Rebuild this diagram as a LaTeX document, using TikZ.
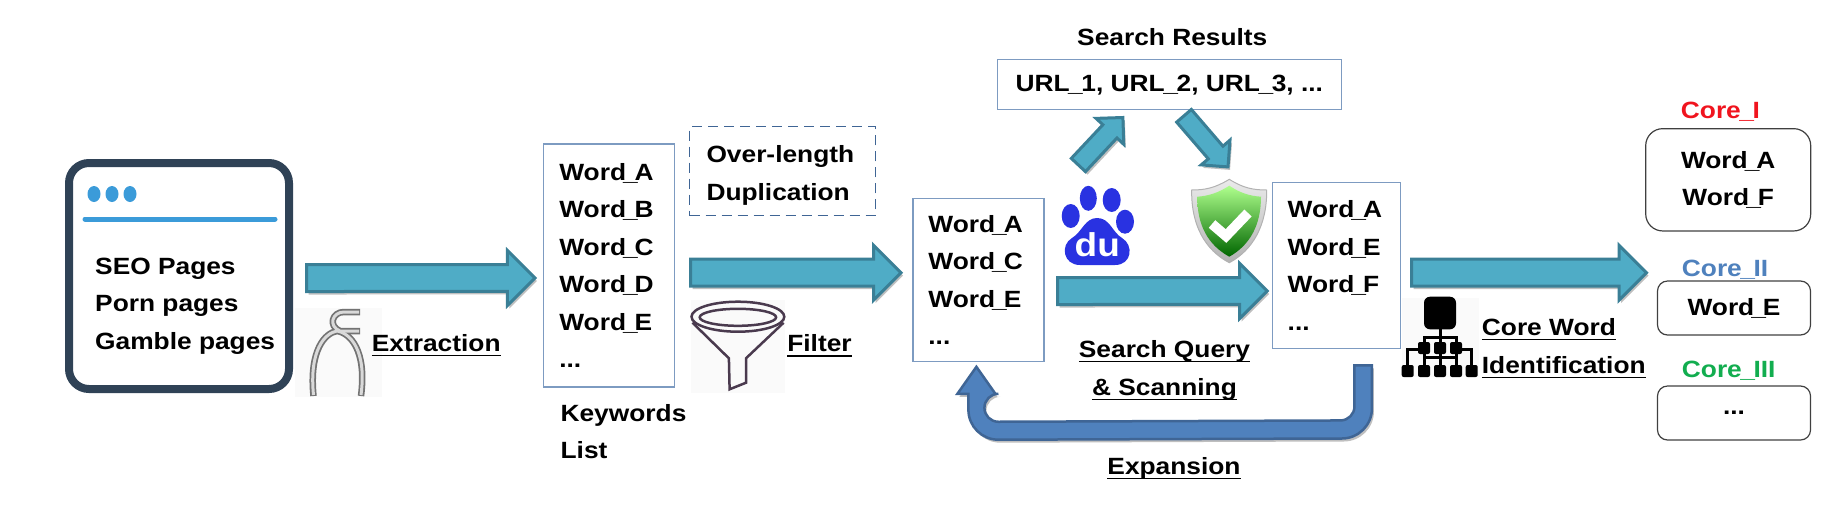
\documentclass[tikz,border=0pt]{standalone}
\usepackage{xcolor}
\usepackage{fontspec}
\usepackage{tikz}
\usetikzlibrary{calc, shadows}
\setmainfont{Liberation Sans}
\newfontfamily\widefont[FakeStretch=1.12]{Liberation Sans}
\definecolor{frameedge}{HTML}{2F4256}
\definecolor{framedot}{HTML}{3B9BD9}
\definecolor{arrowfill}{HTML}{4FACC6}
\definecolor{arrowedge}{HTML}{3A7F96}
\definecolor{loopfill}{HTML}{4F81BD}
\definecolor{loopedge}{HTML}{3F6595}
\definecolor{boxedge}{HTML}{7D9BC1}
\definecolor{pawblue}{HTML}{2932E1}
\definecolor{funneledge}{HTML}{4A3A4E}
\definecolor{coreone}{HTML}{F0141E}
\definecolor{coretwo}{HTML}{4F81BD}
\definecolor{corethree}{HTML}{12AD4F}
\newcommand{\ulined}[1]{\vtop{\hbox{\raisebox{0pt}[\height][0pt]{#1}}\kern3.5pt\hrule height 1.4pt}}
\newcommand{\tightbar}[1][3pt]{\kern-#1\_\kern-#1}

\begin{document}
\begin{tikzpicture}[x=1pt, y=-1pt,
                        labeltext/.style={font=\fontsize{23.5}{37.5}\selectfont\widefont\bfseries},
                        listbox/.style={labeltext, draw=boxedge, line width=1.2pt, align=left, inner xsep=15.5pt, fill=white},
                        corebox/.style={labeltext, draw=black!75, line width=1.2pt, rounded corners=17pt, align=center, minimum width=153pt},
                        blockarrow/.style n args={4}{line width=3pt, draw=arrowedge, fill=arrowfill, miter limit=4,
                                drop shadow={shadow xshift=2pt, shadow yshift=-3pt, fill=black, opacity=.25},
                                to path={
                                    ($(\tikztostart)!#4pt!90:(\tikztotarget)$)
                                    -- ($(\tikztotarget)!#1pt!-#2:(\tikztostart)$)
                                    -- ($(\tikztotarget)!#3pt!-45:(\tikztostart)$)
                                    -- (\tikztotarget)
                                    -- ($(\tikztotarget)!#3pt!45:(\tikztostart)$)
                                    -- ($(\tikztotarget)!#1pt!#2:(\tikztostart)$)
                                    -- ($(\tikztostart)!#4pt!-90:(\tikztotarget)$)
                                    -- cycle
                                }
                            },
                        bigarrow/.style={blockarrow={30.6}{26.1}{38.9}{13.5}},
                        smallarrow/.style={blockarrow={21.3}{27}{26.9}{9.7}},
                        looparrow/.style={line width=2.5pt, draw=loopedge, fill=loopfill,
                                drop shadow={shadow xshift=2pt, shadow yshift=-3pt, fill=black, opacity=.25},
                                to path={
                                    ($(\tikztostart)+(-8.75,0)$) [rounded corners=14pt]
                                    -- ($(\tikztostart)+(-8.75,55)$)
                                    -- ($(\tikztotarget)+(8,55)$)
                                    -- ($(\tikztotarget)+(8,27)$) [sharp corners]
                                    -- ($(\tikztotarget)+(19,27)$)
                                    -- (\tikztotarget)
                                    -- ($(\tikztotarget)+(-19,27)$)
                                    -- ($(\tikztotarget)+(-8,27)$) [rounded corners=30pt]
                                    -- ($(\tikztotarget)+(-8,73)$)
                                    -- ($(\tikztostart)+(8.75,73)$) [sharp corners]
                                    -- ($(\tikztostart)+(8.75,0)$)
                                    -- cycle
                                }
                            },
                        iconback/.style={fill=black!2, draw=none},
                        treeline/.style={draw=black, line width=3pt},
                        treeleaf/.style={fill=black, rounded corners=2pt}
                    ]

    \useasboundingbox (0,0) rectangle (1838,504);

    \node[draw=frameedge, line width=8pt, rounded corners=20pt, minimum width=220pt, minimum height=226pt] (browser) at (179,276) {};
    \foreach \dotx in {94,112,130} {
        \fill[framedot] (\dotx,194) ellipse [x radius=6.5, y radius=8];
    }
    \draw[framedot, line width=5pt, line cap=round] (85,219) -- (275,219);
    \node[labeltext, align=left, anchor=west, inner xsep=0pt] (seotext) at (95,306) {SEO Pages\\Porn pages\\Gamble pages};

    \fill[iconback] (295,308) rectangle (382,397);
    \draw[black!55, line width=6.5pt] (313.5,396) .. controls (309,350) and (325,333) .. (337,331) .. controls (350,333) and (367,350) .. (361,396);
    \draw[black!55, line width=6.5pt] (360,312) -- (344,312) .. controls (332,312) and (328,326) .. (340,331) -- (360,331);
    \draw[black!15, line width=3pt] (313.5,395) .. controls (309,350) and (325,333) .. (337,331) .. controls (350,333) and (367,350) .. (361,395);
    \draw[black!15, line width=3pt] (359,312) -- (344,312) .. controls (332,312) and (328,326) .. (340,331) -- (359,331);
    \node[labeltext, anchor=base west, inner xsep=0pt] (extraction) at (371.7,351) {\ulined{Extraction}};

    \node[listbox, text width=100pt, minimum height=243pt] (kwlist) at (609.3,265.4) {Word\tightbar A\\Word\tightbar B\\Word\tightbar C\\Word\tightbar D\\Word\tightbar E\\...};
    \node[labeltext, align=left, anchor=north west, inner xsep=0pt] (kwcaption) at (560.4,400.5) {Keywords\\List};

    \node[labeltext, draw=loopedge, dash pattern=on 10pt off 6pt, line width=1.5pt, align=left, inner xsep=16.8pt, text width=152pt, minimum height=89pt] (dropbox) at (782.5,171.2) {\rule{0pt}{25pt}Over-length\\Duplication};

    \fill[iconback] (691.4,300) rectangle (785.4,393);
    \draw[funneledge, line width=2.5pt] (737.9,316.7) ellipse [x radius=46.4, y radius=15];
    \draw[funneledge, line width=2.5pt] (737.9,317.3) ellipse [x radius=38.2, y radius=8.5];
    \draw[funneledge, line width=2.5pt] (692.5,322.7) -- (728.9,358.3) -- (729.6,389.3) -- (746,382.7) -- (746,358.3) -- (783.6,322.7);
    \node[labeltext, anchor=base west, inner xsep=0pt] (filter) at (787.1,351.7) {\ulined{Filter}};

    \node[listbox, text width=100pt, minimum height=163pt] (filtered) at (978.4,280.2) {Word\tightbar A\\Word\tightbar C\\Word\tightbar E\\...};

    \node[labeltext, anchor=base] (resultcaption) at (1172.3,45) {Search Results};
    \node[listbox, align=center, minimum width=344pt, minimum height=50pt] (urlbox) at (1169.3,84.7) {URL\tightbar[1.4pt]1, URL\tightbar[1.4pt]2, URL\tightbar[1.4pt]3, ...};

    \foreach \toex/\toey/\toerx/\toery in {1088.3/198.3/8.5/12.5, 1111.7/200/9/12, 1070.7/216/9/12, 1125/221.7/9/12} {
        \fill[pawblue] (\toex,\toey) ellipse [x radius=\toerx, y radius=\toery];
    }
    \fill[pawblue] (1097,218) .. controls (1110,218) and (1112,232) .. (1122,238) .. controls (1134,245) and (1132,265) .. (1115,265) -- (1080,265) .. controls (1063,265) and (1060,245) .. (1072,238) .. controls (1082,232) and (1085,218) .. (1097,218);
    \node[white, font=\fontsize{33}{33}\selectfont\widefont\bfseries, inner sep=0pt] (dutext) at (1097.3,245) {du};

    \draw[black!30, line width=1pt, top color=black!8, bottom color=black!30] (1229.3,179.3) .. controls (1215,188) and (1205,190) .. (1191.7,190) .. controls (1191,225) and (1205,250) .. (1229.3,262.7) .. controls (1253,250) and (1267,225) .. (1266.7,190) .. controls (1253,190) and (1243,188) .. (1229.3,179.3) -- cycle;
    \shade[top color=green!70!yellow!45, bottom color=green!40!black] (1229.3,185.7) .. controls (1218,193) and (1208,196) .. (1197.3,196.7) .. controls (1197,225) and (1208,245) .. (1229.3,256.7) .. controls (1250,245) and (1261,225) .. (1261,196.7) .. controls (1250,196) and (1240,193) .. (1229.3,185.7) -- cycle;
    \draw[white, line width=10pt] (1212,224) -- (1226,236) -- (1248,213);

    \node[listbox, text width=97pt, minimum height=165.6pt] (scanned) at (1336.2,265.5) {Word\tightbar A\\Word\tightbar E\\Word\tightbar F\\...};

    \node[labeltext, align=center, anchor=north] (scancaption) at (1164.5,337) {\ulined{Search Query}\\\ulined{\& Scanning}};
    \node[labeltext, anchor=base] (expansion) at (1174,474) {\ulined{Expansion}};

    \fill[iconback] (1402,298) rectangle (1479,377);
    \fill[black, rounded corners=6pt] (1424,296.7) rectangle (1456,329.3);
    \draw[treeline] (1440,329) -- (1440,337) (1424,346) -- (1424,337) -- (1456,337) -- (1456,346);
    \draw[treeline] (1440,337) -- (1440,346) (1424,357) -- (1456,357);
    \draw[treeline] (1424,350) -- (1424,368) (1440,350) -- (1440,368) (1456,350) -- (1456,368);
    \draw[treeline] (1407.7,368) -- (1407.7,349) -- (1424,349) (1471.7,368) -- (1471.7,349) -- (1456,349);
    \foreach \treex in {1424,1440,1456} {
        \fill[treeleaf] (\treex-6,342) rectangle (\treex+6,354);
    }
    \foreach \treex in {1407.7,1424,1440,1456,1471.7} {
        \fill[treeleaf] (\treex-6,365) rectangle (\treex+6,377);
    }
    \node[labeltext, align=left, anchor=north west, inner xsep=0pt] (corecaption) at (1481.7,315) {\ulined{Core Word}\\\ulined{Identification}};

    \node[labeltext, text=coreone, anchor=base west, inner xsep=0pt] (coreonelabel) at (1680.7,118.3) {Core\tightbar[1.5pt]I};
    \node[corebox, minimum width=165pt, minimum height=102.3pt] (coreonebox) at (1728.2,179.8) {Word\tightbar A\\Word\tightbar F};
    \node[labeltext, text=coretwo, anchor=base west, inner xsep=0pt] (coretwolabel) at (1681.7,276.7) {Core\tightbar[1.5pt]II};
    \node[corebox, rounded corners=10pt, minimum height=54pt] (coretwobox) at (1734,308) {Word\tightbar E};
    \node[labeltext, text=corethree, anchor=base west, inner xsep=0pt] (corethreelabel) at (1681.7,377.7) {Core\tightbar[1.5pt]III};
    \node[corebox, rounded corners=10pt, minimum height=54pt] (corethreebox) at (1734,413) {...};

    \draw[bigarrow] ($(browser.east)+(13.5,2)$) to ($(kwlist.west)+(-8.3,12.6)$);
    \draw[bigarrow] ($(kwlist.east)+(15.2,7.3)$) to ($(filtered.west)+(-11.3,-7.5)$);
    \draw[bigarrow] ($(filtered.east)+(13,10.8)$) to ($(scanned.west)+(-4.4,25.5)$);
    \draw[bigarrow] ($(scanned.east)+(10.9,7.2)$) to ($(coretwobox.west)+(-10.4,-35.3)$);
    \draw[smallarrow] ($(filtered.north east)+(33.9,-33.1)$) to ($(urlbox.south)+(-46.4,7.2)$);
    \draw[smallarrow] ($(urlbox.south)+(14.7,5.5)$) to ($(scanned.north)+(-108.2,-15.2)$);
    \draw[looparrow] ($(scanned.south)+(27,16.5)$) to ($(filtered.south)+(-2,4.5)$);
\end{tikzpicture}
\end{document}
